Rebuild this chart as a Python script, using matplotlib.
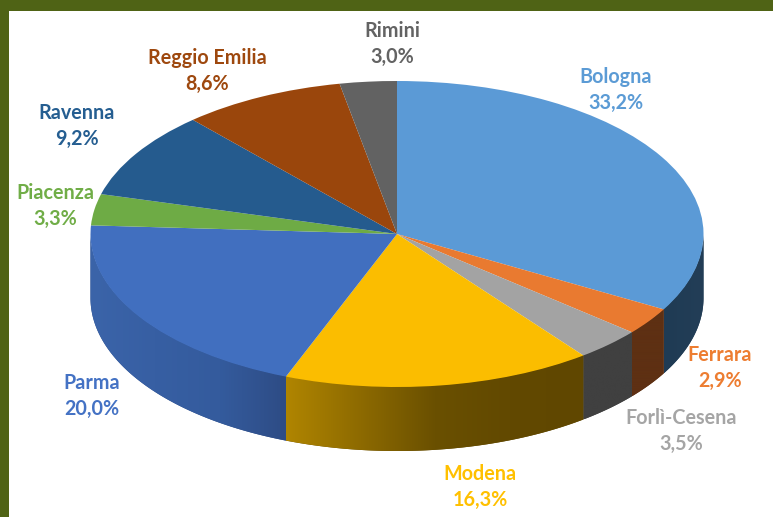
import numpy as np
import matplotlib
matplotlib.use("Agg")
import matplotlib.pyplot as plt
from matplotlib.colors import LinearSegmentedColormap
from matplotlib.patches import Polygon, Rectangle

# ---- data ----
provinces = ["Bologna", "Ferrara", "Forlì-Cesena", "Modena", "Parma",
             "Piacenza", "Ravenna", "Reggio Emilia", "Rimini"]
shares = [33.2, 2.9, 3.5, 16.3, 20.0, 3.3, 9.2, 8.6, 3.0]
share_labels = ["33,2%", "2,9%", "3,5%", "16,3%", "20,0%", "3,3%", "9,2%", "8,6%", "3,0%"]

# ---- style ----
top_colors = ["#5B9AD6", "#E97A30", "#A3A3A3", "#FBBD00", "#416FBF",
              "#6EAB45", "#255B8E", "#9A460C", "#626262"]
text_colors = ["#5B9BD5", "#ED7D31", "#A5A5A5", "#FFC000", "#4472C4",
               "#70AD47", "#255E91", "#9E480E", "#636363"]
side_stops = [
    ["#1F3B54", "#233E57"],
    ["#5E3013", "#5E3013"],
    ["#404040", "#404040"],
    ["#B08500", "#8D6A00", "#6A5000", "#624900", "#604700"],
    ["#3B64A9", "#375FA3", "#345B9D", "#2E4C85"],
    ["#3A5D26", "#3A5D26"], ["#163650", "#163650"],
    ["#5A2908", "#5A2908"], ["#383838", "#383838"],
]
W, H = 773, 517
CX, CY, RX, RY, DEPTH = 397.0, 234.0, 306.5, 153.0, 64.0
label_centres = [(616, 90), (720, 368), (681, 431), (480, 487), (92, 396),
                 (55, 206), (77, 126), (207, 71), (392, 44)]

plt.rcParams["font.family"] = ["Lato", "DejaVu Sans"]
fig = plt.figure(figsize=(W / 100, H / 100), dpi=100, facecolor="white")
ax = fig.add_axes([0, 0, 1, 1])

wedges, _ = ax.pie(shares, colors=top_colors, startangle=90, counterclock=False,
                   wedgeprops=dict(linewidth=0, zorder=5))
ax.set_aspect("auto")
xlim = (-CX / RX, (W - CX) / RX)
ylim = ((CY - H) / RY, CY / RY)
d = DEPTH / RY

for wedge, stops in zip(wedges, side_stops):
    a, b = max(wedge.theta1, -180.0), min(wedge.theta2, 0.0)
    if b <= a:
        continue
    t = np.radians(np.linspace(a, b, 200))
    x, y = np.cos(t), np.sin(t)
    verts = np.r_[np.c_[x, y + 0.004], np.c_[x[::-1], y[::-1] - d]]
    under = Polygon(verts, closed=True, facecolor=stops[-1], edgecolor="none", zorder=1)
    ax.add_patch(under)
    cmap = LinearSegmentedColormap.from_list("side", stops)
    im = ax.imshow(np.linspace(0, 1, 256).reshape(1, -1), cmap=cmap, aspect="auto",
                   extent=(x.min(), x.max(), y.min() - d, y.max() + 0.01),
                   interpolation="bilinear", zorder=2)
    im.set_clip_path(Polygon(verts, closed=True, transform=ax.transData))

ax.set_xlim(*xlim)
ax.set_ylim(*ylim)
ax.set_axis_off()

for name, lab, col, (px, py) in zip(provinces, share_labels, text_colors, label_centres):
    fig.text(px / W, 1 - py / H, f"{name}\n{lab}", color=col, fontsize=14.2, fontweight="bold",
             ha="center", va="center", multialignment="center", linespacing=1.42)

fig.add_artist(Rectangle((0, 1 - 11 / H), 1, 11 / H, transform=fig.transFigure,
                         facecolor="#4F6315", edgecolor="none"))
fig.add_artist(Rectangle((0, 0), 8.5 / W, 1, transform=fig.transFigure,
                         facecolor="#4F6315", edgecolor="none"))

fig.savefig("out.png", dpi=100)
